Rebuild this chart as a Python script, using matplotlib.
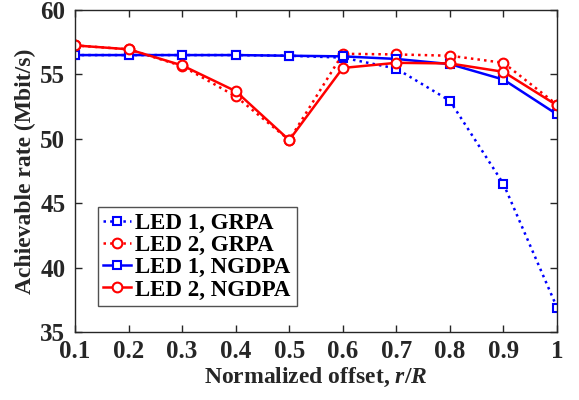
import matplotlib
matplotlib.use("Agg")
import matplotlib.pyplot as plt

# normalized offset r/R
offset = [0.1, 0.2, 0.3, 0.4, 0.5, 0.6, 0.7, 0.8, 0.9, 1.0]

# achievable rate (Mbit/s)
led1_grpa = [56.5, 56.5, 56.5, 56.5, 56.45, 56.3, 55.45, 52.95, 46.5, 36.9]
led2_grpa = [57.25, 56.95, 55.65, 53.3, 49.9, 56.6, 56.55, 56.45, 55.9, 52.65]
led1_ngdpa = [56.5, 56.5, 56.5, 56.5, 56.45, 56.4, 56.2, 55.8, 54.6, 51.9]
led2_ngdpa = [57.25, 56.95, 55.7, 53.7, 49.9, 55.5, 55.9, 55.85, 55.2, 52.6]

labels = ["LED 1, GRPA", "LED 2, GRPA", "LED 1, NGDPA", "LED 2, NGDPA"]

plt.rcParams["font.family"] = ["Liberation Serif", "DejaVu Serif"]
plt.rcParams["font.weight"] = "bold"
plt.rcParams["axes.labelweight"] = "bold"
plt.rcParams["mathtext.fontset"] = "custom"
plt.rcParams["mathtext.it"] = "Liberation Serif:italic:bold"
plt.rcParams["mathtext.rm"] = "Liberation Serif:bold"

fig = plt.figure(figsize=(5.79, 4.0), dpi=100)
ax = fig.add_axes([75 / 579, 1 - 332 / 400, (557 - 75) / 579, (332 - 10) / 400])

sq = dict(markersize=6, markerfacecolor="white", markeredgewidth=1.5)
ci = dict(markersize=7, markerfacecolor="white", markeredgewidth=1.5)
ax.plot(offset, led1_grpa, ls=":", color="#0000ff", lw=1.8, marker="s", label=labels[0], **sq)
ax.plot(offset, led2_grpa, ls=":", color="#ff0000", lw=1.8, marker="o", label=labels[1], **ci)
ax.plot(offset, led1_ngdpa, ls="-", color="#0000ff", lw=1.8, marker="s", label=labels[2], **sq)
ax.plot(offset, led2_ngdpa, ls="-", color="#ff0000", lw=1.8, marker="o", label=labels[3], **ci)

ax.set_xlim(0.1, 1.0)
ax.set_ylim(35, 60)
ax.set_xticks(offset)
ax.set_xticklabels(["0.1", "0.2", "0.3", "0.4", "0.5", "0.6", "0.7", "0.8", "0.9", "1"])
ax.set_yticks([35, 40, 45, 50, 55, 60])
ax.tick_params(direction="in", labelsize=18, top=True, right=True, length=5, width=1,
               colors="#262626")
ax.tick_params(axis="x", pad=6)
ax.tick_params(axis="y", pad=7)
for sp in ax.spines.values():
    sp.set_color("#262626")
    sp.set_linewidth(1)

ax.set_xlabel(r"Normalized offset, $r$/$R$", fontsize=17, color="#262626", labelpad=2)
ax.set_ylabel("Achievable rate (Mbit/s)", fontsize=17, color="#262626", labelpad=3)

leg = ax.legend(loc="lower left", bbox_to_anchor=(0.047, 0.08), fontsize=16.5, frameon=True,
                fancybox=False, edgecolor="#262626", handlelength=1.2, handletextpad=0.2,
                borderpad=0.25, labelspacing=0.05, borderaxespad=0)
leg.get_frame().set_linewidth(1)

fig.savefig("out.png", dpi=100)
